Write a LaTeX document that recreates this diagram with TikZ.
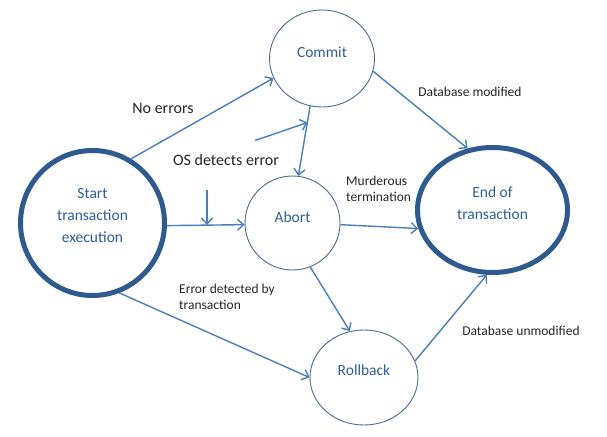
\documentclass[tikz,border=0pt]{standalone}
\usepackage{fontspec}
\setmainfont{Carlito}
\usetikzlibrary{arrows.meta,shapes.geometric}
\definecolor{nodeline}{HTML}{4A6A96}
\definecolor{thickline}{HTML}{2E5A8E}
\definecolor{arrowc}{HTML}{4A7EBB}
\definecolor{nodetext}{HTML}{2F5C99}
\tikzset{
  stateA/.style={ellipse, draw=nodeline, line width=0.9pt, inner sep=0pt},
  stateB/.style={ellipse, draw=thickline, line width=5pt, inner sep=0pt},
  ntext/.style={text=nodetext, font=\fontsize{15.5}{22}\selectfont, align=center, inner sep=0pt},
  conn/.style={draw=arrowc, line width=1.4pt, -{Straight Barb[length=6pt,width=11pt]}},
  lbl/.style={font=\fontsize{13.5}{16}\selectfont, text=black!85, align=left, inner sep=0pt},
  lblbig/.style={font=\fontsize{16}{19}\selectfont, text=black!85, inner sep=0pt},
}
\begin{document}
\begin{tikzpicture}[x=1pt,y=-1pt]
\useasboundingbox (0,0) rectangle (607,436);
% nodes
\node[stateB, minimum width=144pt, minimum height=145pt] (start) at (92.5,223) {};
\node[ntext] (starttxt) at (92.5,216) {Start\\transaction\\execution};
\node[stateA, minimum width=105pt, minimum height=97pt] (commit) at (322,58.5) {};
\node[ntext] (committxt) at (322,52) {Commit};
\node[stateA, minimum width=95pt, minimum height=94pt] (abort) at (292.5,223) {};
\node[ntext] (aborttxt) at (292.5,217) {Abort};
\node[stateB, minimum width=150pt, minimum height=125pt] (end) at (492.5,210) {};
\node[ntext] (endtxt) at (492.5,203) {End of\\transaction};
\node[stateA, minimum width=108pt, minimum height=95pt] (roll) at (364,377.5) {};
\node[ntext] (rolltxt) at (364,370) {Rollback};
% free-end coordinates
\coordinate (os0) at (255,140.5);
\coordinate (os1) at (307.5,122.5);
\coordinate (dn0) at (207,190);
\coordinate (dn1) at (207,225);
% connectors
\draw[conn] (start.59) -- (commit.202);
\draw[conn] (commit.256) -- (abort.83);
\draw[conn] (os0) -- (os1);
\draw[conn] (dn0) -- (dn1);
\draw[conn] (start.-2) -- (abort.182);
\draw[conn] (commit.-14) -- (end.112);
\draw[conn] (abort.-2) -- (end.194);
\draw[conn] (abort.-68) -- (roll.107);
\draw[conn] (start.-69) -- (roll.180);
\draw[conn] (roll.18) -- (end.265);
% labels
\node[lblbig] (noerr) at (163,108) {No errors};
\node[lblbig] (osl) at (226,160) {OS detects error};
\node[lbl] (dbm) at (470,92) {Database modified};
\node[lbl, anchor=west] (mur) at (346,189) {Murderous\\termination};
\node[lbl, anchor=west] (edt) at (179,297) {Error detected by\\transaction};
\node[lbl] (dbu) at (521,331) {Database unmodified};
\end{tikzpicture}
\end{document}
